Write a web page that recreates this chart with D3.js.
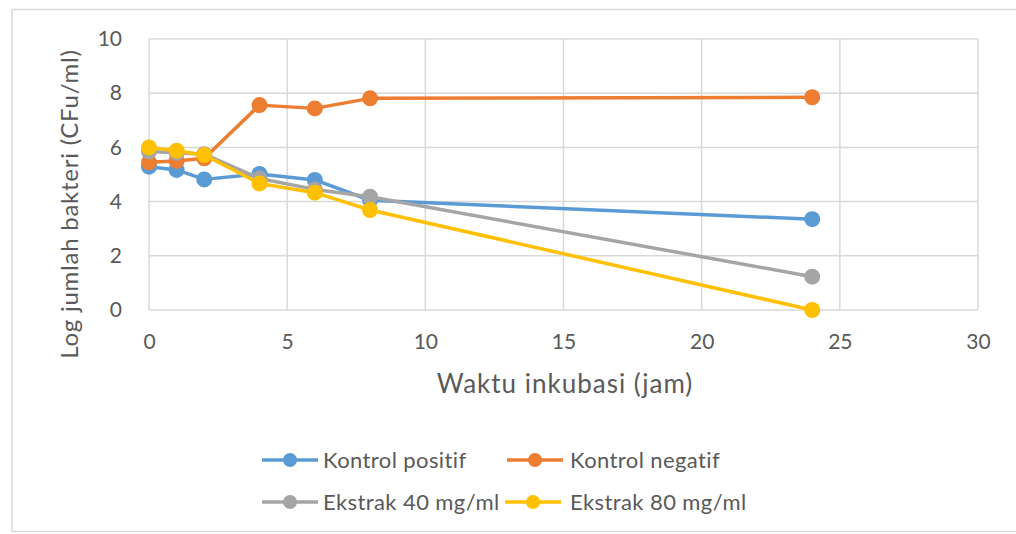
<!DOCTYPE html>
<html><head><meta charset="utf-8">
<script src="https://cdn.jsdelivr.net/npm/d3@7"></script>
<style>
body{margin:0;background:#fff;}
svg{display:block;}
text{font-family:Lato,"Open Sans",sans-serif;fill:#595959;}
</style></head>
<body><svg id="c" width="1016" height="534"></svg>
<script>
const hours = [0, 1, 2, 4, 6, 8, 24];
const kontrolPositif = [5.29, 5.17, 4.82, 5.02, 4.80, 4.05, 3.35];
const kontrolNegatif = [5.45, 5.5, 5.6, 7.56, 7.44, 7.81, 7.85];
const ekstrak40 = [5.85, 5.8, 5.75, 4.85, 4.45, 4.18, 1.23];
const ekstrak80 = [6.0, 5.88, 5.72, 4.67, 4.33, 3.69, 0];
const seriesNames = ["Kontrol positif", "Kontrol negatif", "Ekstrak 40 mg/ml", "Ekstrak 80 mg/ml"];
const seriesColors = ["#5B9BD5", "#ED7D31", "#A5A5A5", "#FFC000"];
const xTicks = [0, 5, 10, 15, 20, 25, 30];
const yTicks = [0, 2, 4, 6, 8, 10];
const xTitle = "Waktu inkubasi (jam)";
const yTitle = "Log jumlah bakteri (CFu/ml)";

const seriesValues = [kontrolPositif, kontrolNegatif, ekstrak40, ekstrak80];
const svg = d3.select("#c");

// outer frame
svg.append("rect").attr("x", 12).attr("y", 9.5).attr("width", 1010).attr("height", 522)
  .attr("fill", "none").attr("stroke", "#d9d9d9").attr("stroke-width", 1.5);

const x = d3.scaleLinear().domain([0, 30]).range([149, 978]);
const y = d3.scaleLinear().domain([0, 10]).range([310, 39]);

const grid = svg.append("g");
grid.selectAll("line.h").data(yTicks).join("line")
  .attr("x1", x(0)).attr("x2", x(30)).attr("y1", d => y(d)).attr("y2", d => y(d))
  .attr("stroke", "#d9d9d9").attr("stroke-width", 1.5);
grid.selectAll("line.v").data(xTicks).join("line")
  .attr("y1", y(0)).attr("y2", y(10)).attr("x1", d => x(d)).attr("x2", d => x(d))
  .attr("stroke", "#d9d9d9").attr("stroke-width", 1.5);

const xAxis = svg.append("g").attr("transform", `translate(0,${y(0)})`)
  .call(d3.axisBottom(x).tickValues(xTicks).tickSize(0).tickPadding(24));
xAxis.select(".domain").remove();
xAxis.selectAll("text").attr("font-size", 21).style("font-family", "Lato").attr("fill", "#595959");

const yAxis = svg.append("g").attr("transform", `translate(${x(0)},0)`)
  .call(d3.axisLeft(y).tickValues(yTicks).tickSize(0).tickPadding(27));
yAxis.select(".domain").remove();
yAxis.selectAll("text").attr("font-size", 21).style("font-family", "Lato").attr("fill", "#595959");

svg.append("text").attr("x", 565).attr("y", 393).attr("text-anchor", "middle")
  .attr("font-size", 26).attr("letter-spacing", 1).text(xTitle);
svg.append("text").attr("transform", "translate(78,204) rotate(-90)").attr("text-anchor", "middle")
  .attr("font-size", 24).attr("letter-spacing", 0.75).text(yTitle);

const line = d3.line().x(d => x(d[0])).y(d => y(d[1]));
seriesValues.forEach((vals, i) => {
  const pts = hours.map((h, j) => [h, vals[j]]);
  const g = svg.append("g");
  g.append("path").attr("d", line(pts)).attr("fill", "none")
    .attr("stroke", seriesColors[i]).attr("stroke-width", 3.5).attr("stroke-linejoin", "round");
  g.selectAll("circle").data(pts).join("circle")
    .attr("cx", d => x(d[0])).attr("cy", d => y(d[1])).attr("r", 8)
    .attr("fill", seriesColors[i]);
});

// legend
const legPos = [[262, 460], [507, 460], [262, 502], [505, 502]];
seriesNames.forEach((name, i) => {
  const [lx, ly] = legPos[i];
  const g = svg.append("g").attr("transform", `translate(${lx},${ly})`);
  g.append("line").attr("x1", 0).attr("x2", 56).attr("y1", 0).attr("y2", 0)
    .attr("stroke", seriesColors[i]).attr("stroke-width", 3.5);
  g.append("circle").attr("cx", 28).attr("cy", 0).attr("r", 7).attr("fill", seriesColors[i]);
  g.append("text").attr("x", i === 0 || i === 2 ? 61 : (i === 1 ? 63 : 65)).attr("y", 0).attr("dy", "0.35em")
    .attr("font-size", 22).attr("letter-spacing", 0.4).text(name);
});
</script></body></html>
